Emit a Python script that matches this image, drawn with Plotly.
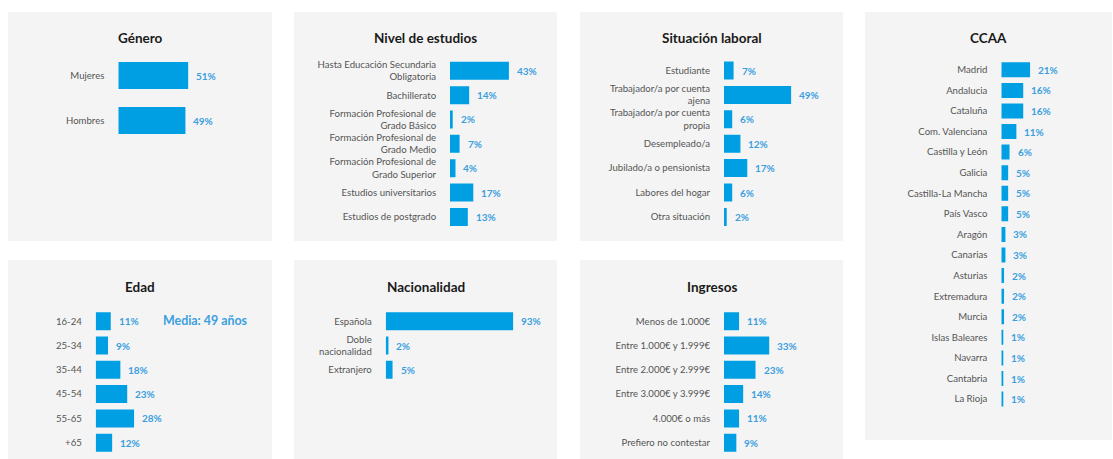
import plotly.graph_objects as go

W, H = 1113, 459

# ---------------- data ----------------
genero_cats = ["Mujeres", "Hombres"]
genero_vals = [51, 49]

estudios_cats = ["Hasta Educación Secundaria<br>Obligatoria", "Bachillerato",
                 "Formación Profesional de<br>Grado Básico",
                 "Formación Profesional de<br>Grado Medio",
                 "Formación Profesional de<br>Grado Superior",
                 "Estudios universitarios", "Estudios de postgrado"]
estudios_vals = [43, 14, 2, 7, 4, 17, 13]

laboral_cats = ["Estudiante", "Trabajador/a por cuenta<br>ajena",
                "Trabajador/a por cuenta<br>propia", "Desempleado/a",
                "Jubilado/a o pensionista", "Labores del hogar", "Otra situación"]
laboral_vals = [7, 49, 6, 12, 17, 6, 2]

ccaa_cats = ["Madrid", "Andalucia", "Cataluña", "Com. Valenciana", "Castilla y León",
             "Galicia", "Castilla-La Mancha", "País Vasco", "Aragón", "Canarias",
             "Asturias", "Extremadura", "Murcia", "Islas Baleares", "Navarra",
             "Cantabria", "La Rioja"]
ccaa_vals = [21, 16, 16, 11, 6, 5, 5, 5, 3, 3, 2, 2, 2, 1, 1, 1, 1]

edad_cats = ["16-24", "25-34", "35-44", "45-54", "55-65", "+65"]
edad_vals = [11, 9, 18, 23, 28, 12]
edad_media = "Media: 49 años"

nac_cats = ["Española", "Doble<br>nacionalidad", "Extranjero"]
nac_vals = [93, 2, 5]

ingresos_cats = ["Menos de 1.000€", "Entre 1.000€ y 1.999€", "Entre 2.000€ y 2.999€",
                 "Entre 3.000€ y 3.999€", "4.000€ o más", "Prefiero no contestar"]
ingresos_vals = [11, 33, 23, 14, 11, 9]

# ---------------- styling / layout (pixels) ----------------
BAR_COLOR = "#009fe3"
VAL_COLOR = "#3b9fdf"
LABEL_COLOR = "#555555"
TITLE_COLOR = "#1a1a1a"
PANEL_COLOR = "#f4f4f4"
FONT = "Lato"
PX_PER_PCT = 1.37

# title, cats, vals, panel rect (x0,y0,x1,y1), bar start x, first center y, spacing, bar px, title y
panels = [
    ("Género", genero_cats, genero_vals, (8, 12, 272, 241), 118.3, 75.5, 45.0, 27, 38.5),
    ("Nivel de estudios", estudios_cats, estudios_vals, (294, 12, 557, 241), 450.0, 70.8, 24.35, 18, 38.5),
    ("Situación laboral", laboral_cats, laboral_vals, (580, 12, 843, 241), 724.0, 70.5, 24.4, 18, 38.5),
    ("CCAA", ccaa_cats, ccaa_vals, (865, 12, 1112, 440), 1001.3, 69.8, 20.58, 15, 38.5),
    ("Edad", edad_cats, edad_vals, (8, 260, 272, 459), 95.7, 321.3, 24.27, 18, 286.7),
    ("Nacionalidad", nac_cats, nac_vals, (294, 260, 557, 459), 385.7, 321.3, 24.27, 18, 286.7),
    ("Ingresos", ingresos_cats, ingresos_vals, (580, 260, 843, 459), 724.0, 321.3, 24.27, 18, 286.7),
]

fig = go.Figure()
shapes = []
annotations = []
layout_axes = {}

for i, (title, cats, vals, rect, bx0, c0, sp, bpx, ty) in enumerate(panels, start=1):
    xa = "x" if i == 1 else f"x{i}"
    ya = "y" if i == 1 else f"y{i}"
    xkey = "xaxis" if i == 1 else f"xaxis{i}"
    ykey = "yaxis" if i == 1 else f"yaxis{i}"
    n = len(cats)

    xmax = min(100.0, (W - 1 - bx0) / PX_PER_PCT)
    xd = [bx0 / W, (bx0 + xmax * PX_PER_PCT) / W]
    top = c0 - sp / 2
    bot = top + n * sp
    yd = [max(0.0, 1 - bot / H), 1 - top / H]
    yrange = [n - 0.5, -0.5]

    layout_axes[xkey] = dict(domain=xd, range=[0, xmax], anchor=ya, visible=False, fixedrange=True)
    layout_axes[ykey] = dict(domain=yd, range=yrange, anchor=xa, type="category",
                             categoryorder="array", categoryarray=cats,
                             showgrid=False, zeroline=False, showline=False,
                             ticks="outside", ticklen=11, tickcolor="rgba(0,0,0,0)",
                             tickfont=dict(family=FONT, size=9.6, color=LABEL_COLOR),
                             fixedrange=True)

    fig.add_trace(go.Bar(x=vals, y=cats, orientation="h", xaxis=xa, yaxis=ya,
                         width=bpx / sp, marker=dict(color=BAR_COLOR, line=dict(width=0)),
                         hoverinfo="skip", showlegend=False))

    for j, v in enumerate(vals):
        annotations.append(dict(x=v, y=j, xref=xa, yref=ya, text=f"{v}%", showarrow=False,
                                xanchor="left", yanchor="middle", xshift=6,
                                font=dict(family=FONT, size=10, color=VAL_COLOR, weight="bold")))

    x0, y0, x1, y1 = rect
    shapes.append(dict(type="rect", xref="paper", yref="paper", layer="below",
                       x0=x0 / W, x1=x1 / W, y0=1 - y1 / H, y1=1 - y0 / H,
                       fillcolor=PANEL_COLOR, line=dict(width=0)))
    annotations.append(dict(x=(x0 + x1) / 2 / W, y=1 - ty / H, xref="paper", yref="paper",
                            text=title, showarrow=False, xanchor="center", yanchor="middle",
                            font=dict(family=FONT, size=13.5, color=TITLE_COLOR, weight="bold")))

annotations.append(dict(x=161 / W, y=1 - 320 / H, xref="paper", yref="paper", text=edad_media,
                        showarrow=False, xanchor="left", yanchor="middle",
                        font=dict(family=FONT, size=12.4, color=VAL_COLOR, weight="bold")))

fig.update_layout(width=W, height=H, margin=dict(l=0, r=0, t=0, b=0),
                  paper_bgcolor="white", plot_bgcolor="rgba(0,0,0,0)",
                  shapes=shapes, annotations=annotations, showlegend=False,
                  **layout_axes)

fig.write_html("out.html", config={"displayModeBar": False},
               post_script="document.body.style.margin='0';document.body.style.overflow='hidden';")
